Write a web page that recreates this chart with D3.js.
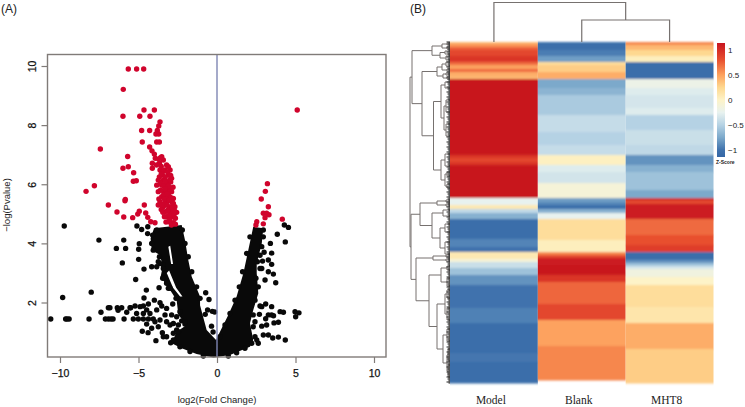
<!DOCTYPE html>
<html lang="en">
<head>
<meta charset="UTF-8">
<title>Volcano plot and heatmap</title>
<script src="https://d3js.org/d3.v7.min.js"></script>
<style>
  html, body { margin: 0; padding: 0; background: #fff; }
  svg { display: block; }
  text { font-family: "Liberation Sans", Arial, sans-serif; fill: #222; }
  .serif { font-family: "Liberation Serif", "Times New Roman", serif; }
</style>
</head>
<body>
<svg id="chart" width="745" height="407"></svg>
<script>
// volcano: [log2 fold change, -log p]
const redPoints = [
  [-5.65,9.9],[-5.12,9.9],[-4.67,9.9],[-5.97,9.21],[-4.65,8.51],[-3.99,8.51],[-5.99,8.3],[-4.92,8.3],[-4.27,8.3],
  [-3.63,8.11],[-3.71,7.97],[-4.8,7.82],[-4.29,7.82],[-3.8,7.82],[-3.89,7.7],[-3.71,7.7],[-4.76,7.43],[-3.84,7.43],
  [-3.67,7.43],[-7.43,7.19],[-4.29,7.26],[-4.14,7.13],[-3.99,7.02],[-5.69,6.94],[-3.93,6.88],[-3.52,6.93],[-4.12,6.71],
  [-3.67,6.71],[-5.99,6.54],[-5.65,6.59],[-4.12,6.54],[-5.31,6.39],[-5.33,6.1],[-5.14,6.12],[-7.81,5.95],[-8.34,5.76],
  [-5.84,5.49],[-6.92,5.3],[-6.37,5.06],[-5.94,4.89],[-5.37,4.87],[-5.05,4.99],[-4.95,5.09],[-4.63,5.3],[-5.86,5.44],
  [-4.54,5.03],[-4.41,4.88],[-4.22,4.73],[-3.95,4.7],
  [-3.42,6.82],[-3.21,6.65],[-3.63,6.48],[-3.31,6.48],[-2.99,6.48],[-3.46,6.31],[-3.1,6.31],[-3.74,6.14],[-3.42,6.14],
  [-2.89,6.2],[-3.1,6.05],[-3.84,5.97],[-3.52,5.97],[-3.21,5.92],[-3.74,5.75],[-3.42,5.78],[-2.89,5.75],[-3.52,5.58],
  [-3.21,5.58],[-2.78,5.52],[-2.95,6.08],[-3.67,6.25],[-3.25,5.75],[-3.1,6.59],[-3.63,5.41],[-3.21,5.41],[-2.89,5.41],
  [-3.42,5.24],[-2.99,5.24],[-2.68,5.24],[-3.31,5.07],[-2.89,5.07],[-2.57,5.05],[-3.21,4.9],[-2.89,4.9],[-3.1,4.73],
  [-2.78,4.7],[-3.74,5.3],[-3.05,5.6],[-3.35,5.35],[-3.1,5.15],[-3.05,4.95],[-2.75,4.95],[-3.55,5.15],[-3.3,6.0],[-3.05,5.85],
  [-3.55,6.6],[-3.4,6.45],[-3.15,6.42],[-3.55,6.35],[-3.3,6.25],[-2.95,6.3],[-3.6,6.05],[-3.28,6.12],[-3.0,6.15],[-3.4,5.95],
  [-3.1,5.95],[-2.8,5.9],[-3.6,5.8],[-3.3,5.85],[-3.0,5.75],[-3.4,5.65],[-3.15,5.68],[-2.95,5.55],[-3.7,5.5],[-3.35,5.5],
  [-3.05,5.45],[-2.78,5.35],[-3.5,5.3],[-3.2,5.3],[-2.85,5.2],[-3.45,5.05],[-3.15,5.1],[-2.7,5.1],[-3.35,4.9],[-3.0,4.8],
  [-2.65,4.85],[-3.25,4.72],[-2.9,4.62],[-2.65,4.65],[-3.85,6.65],[-3.72,6.85],[-3.6,6.9],
  [5.11,8.51],[3.21,6.02],[3.08,5.76],[2.82,5.5],[3.27,5.24],[2.95,5.02],[3.16,5.02],[3.31,4.97],[3.06,4.87],[4.16,4.82],
  [2.53,4.73],[2.95,4.66],[2.48,4.62]
];
const blackPoints = [
  [-9.73,4.59],[-7.52,4.11],[-5.94,4.11],[-6.41,3.83],[-5.82,3.83],[-4.95,3.99],[-4.99,3.8],[-6.03,3.34],[-4.99,3.46],
  [-4.65,3.13],[-5.18,2.78],[-4.5,2.42],[-3.69,2.5],[-8.01,2.35],[-9.83,2.17],[-4.65,2.15],[-10.59,1.44],[-9.64,1.44],
  [-9.55,1.44],[-9.42,1.44],[-8.15,1.44],[-7.39,1.67],[-6.92,1.82],[-6.82,1.82],[-7.11,1.44],[-6.92,1.44],[-6.75,1.44],
  [-6.62,1.44],[-6.35,1.82],[-6.3,1.74],[-6.07,1.82],[-5.92,1.44],[-5.75,1.67],[-5.54,1.82],
  [-5.1,4.59],[-4.8,4.47],[-4.41,4.56],[-4.42,4.33],
  [-4.69,1.88],[-4.37,1.95],[-3.99,2.08],[-3.63,1.99],[-3.52,1.88],[-4.48,1.75],[-4.9,1.86],[-5.22,1.88],[-5.5,1.82],
  [-5.12,1.63],[-4.69,1.63],[-4.27,1.63],[-3.84,1.75],[-3.21,1.8],[-2.82,1.95],[-3.31,1.58],[-2.89,1.58],[-5.33,1.44],
  [-5.01,1.44],[-4.69,1.44],[-4.37,1.44],[-4.06,1.44],[-3.63,1.41],[-3.21,1.35],[-2.99,1.24],[-4.48,1.27],[-4.16,1.13],
  [-3.74,1.18],[-3.95,1.35],[-4.76,1.03],[-4.39,0.98],[-3.48,0.98],[-3.42,0.84],[-3.89,0.71],[-2.95,0.64],[-3.21,0.84],
  [-2.78,0.96],[-2.57,1.07],[-2.78,1.29],[-2.46,1.24],[-2.57,1.52],[-2.25,1.38],[-2.04,1.27],
  [-3.84,3.21],[-4.16,3.21],[-3.42,3.27],[-3.63,3.32],[-3.74,3.38],[-3.31,2.82],[-3.21,2.65],[-3.1,2.48],
  [-0.72,2.33],[-0.51,2.1],[-0.3,1.7],[-0.6,1.75],[-0.15,1.68],[-0.75,1.6],[-0.35,1.2],[-0.25,1.0],
  [3.4,4.0],[3.48,3.67],[3.27,3.44],[2.85,3.15],[3.48,3.29],[3.27,3.04],[3.59,2.96],[3.06,2.76],[3.74,2.67],
  [2.85,1.86],[3.48,1.86],[3.27,1.58],[4.02,1.69],[4.23,1.67],[4.97,1.69],[5.22,1.65],[5.01,1.52],[3.63,1.31],[3.91,1.33],
  [3.16,1.24],[2.85,1.2],[2.42,1.35],[3.48,1.58],[2.95,0.9],[3.27,0.9],[3.55,0.8],[3.91,0.83],[4.35,0.73],[2.63,0.62],[2.53,0.73],
  [3.84,4.31],[4.35,4.05],[4.29,4.62],[4.55,4.54],[3.0,3.7],[2.9,3.4],[3.1,1.95],[2.7,1.6],[3.1,1.45],[3.6,1.55],
  // rim of the solid part
  [2.95,4.45],[2.95,4.22],[2.85,3.89],[2.74,3.6],[2.57,3.38],[2.74,3.15],[2.48,2.82],[2.63,2.53],[2.42,2.08],[2.74,1.88],
  [2.31,1.58],[2.31,1.18],[2.42,0.84],[2.21,0.62],[1.78,0.45],[1.25,0.3],[0.72,0.19],
  [2.1,4.22],[1.89,3.66],[1.63,3.04],[1.42,2.53],[1.15,2.08],[0.83,1.63],[0.51,1.24],[0.19,0.84],
  [-3.84,4.45],[-4.1,4.28],[-4.16,4.0],[-4.06,3.77],[-3.67,3.55],[-3.42,3.15],[-3.46,2.82],[-2.99,2.48],[-2.61,2.14],
  [-2.36,1.69],[-2.04,1.35],[-2.46,1.01],[-2.78,0.73],[-2.36,0.5],[-1.72,0.34],[-0.87,0.19],
  [-2.21,4.45],[-2.04,4.0],[-1.83,3.55],[-1.61,3.04],[-1.3,2.53],[-1.08,2.14]
];
// solid part of the cloud, where single points can no longer be told apart
const denseX = [-4.01,-4.23,-4.16,-3.63,-3.46,-3.59,-2.99,-2.57,-2.46,-1.93,-2.57,-2.89,-2.25,-1.3,-0.23,0.83,2.1,2.31,2.1,2.31,2.63,2.53,2.53,2.85,2.95,2.31,1.68,1.25,0.72,0.19,-0.06,-0.66,-1.08,-1.08,-1.61,-1.83,-2.04,-2.25];
const denseY = [4.51,4.17,3.77,3.61,3.21,2.87,2.42,2.08,1.58,1.24,1.01,0.62,0.45,0.26,0.14,0.22,0.5,0.73,1.3,1.75,2.31,2.99,3.32,4.0,4.51,4.56,2.99,2.2,1.58,1.01,0.73,1.07,1.91,2.2,2.87,3.44,4.11,4.62];
// thin white gaps inside the left arm
const gapOneX = [-3.1,-2.98,-2.8,-2.92];
const gapOneY = [3.89,3.92,3.3,3.3];
const gapTwoX = [-3.2,-3.05,-2.6,-2.2,-2.35,-2.8];
const gapTwoY = [3.0,3.08,2.5,2.2,2.2,2.5];
const xTicks = [-10, -5, 0, 5, 10];
const yTicks = [2, 4, 6, 8, 10];

// heatmap: each list is [rows in band, z-score], top to bottom
const samples = ["Model", "Blank", "MHT8"];
const modelRows = [[2,.4],[3,.55],[3,.75],[6,.85],[6,.95],[3,.7],[4,.5],[3,.7],[4,.45],[3,.4],[76,1.15],[3,.95],[4,.85],[3,.95],[33,1.15],[7,-.25],[4,.1],[4,-.45],[6,-.7],[20,-1.05],[8,-.92],[5,-1],[7,.1],[3,-.1],[6,-.4],[7,-.6],[10,-.85],[23,-1],[15,-.93],[30,-1.05],[9,-.98],[21,-1.05]];
const blankRows = [[8,-1.05],[6,-.95],[6,-.8],[3,.2],[7,.3],[7,.45],[9,-.75],[7,-.68],[20,-.55],[17,-.42],[13,-.5],[10,-.42],[10,.03],[7,-.3],[11,-.36],[15,-.1],[4,-.8],[3,-.9],[4,-1.05],[4,-.7],[6,-.25],[21,.2],[12,.05],[3,.6],[3,.85],[7,1.1],[10,1.15],[7,.95],[22,.72],[16,.85],[26,.5],[34,.6]];
const mht8Rows = [[3,.6],[5,.4],[6,.25],[6,.05],[17,-1.05],[9,-.2],[7,-.3],[13,-.35],[7,-.3],[15,-.5],[15,-.4],[10,-.45],[10,-.85],[7,-.7],[18,-.6],[8,-.75],[2,1.1],[4,.85],[15,1.1],[16,.7],[10,.8],[7,.9],[8,-1.05],[3,-.85],[3,-.6],[3,-.35],[8,-.15],[8,0],[22,.2],[16,.13],[26,.45],[34,.3]];
const zStops = [-1.14,-1,-.75,-.5,-.25,0,.25,.5,.8,1.14];
const zColors = ["#3566a5","#3f72ad","#7ca9cb","#b5d2e4","#e8f2ef","#fdf3c8","#fed890","#fda25e","#e8502f","#c8141f"];
const zTicks = [-1, -.5, 0, .5, 1];

// dendrograms: [merge height, child, child], a bare number is a leaf
const colTree = [39.5, "Model", [22, "Blank", "MHT8"]];
const rowTree = [40,
  [38,
    [18, [8,[3,1,3],[3,5,7]], [10,[5,9,12],[4,14,18]]],
    [28,
      [13, [8,[4,20,24],[3,27,29]], [7,[4,31,33],[3,35,37]]],
      [16.5,
        [9, [5,40,46], [6,[4,58,70],[4,82,94]]],
        [9, [5,112,124], [5,[3,130,134],[3,142,146]]]]]],
  [39,
    [30,
      [13, [4,158,160], [4,162,164]],
      [18, [7,168,174], [10,[5,182,190],[5,200,212]]]],
    [34,
      [17, [4,213,215], [4,217,219]],
      [21,
        [9, [3,224,228], [3,236,244]],
        [13,
          [5, [3,248,256], [3,266,278]],
          [7, [3,287,299], [3,[2,307,319],[2,323,335]]]]]]]
];

const svg = d3.select("#chart");
const defs = svg.append("defs");
defs.append("filter").attr("id", "soft").append("feGaussianBlur").attr("stdDeviation", "0 0.8");

// ---- panel A ----
const frame = { left: 47.5, right: 386, top: 54.5, bottom: 357 };
const x = d3.scaleLinear().domain([-10, 10]).range([60, 374]);
const y = d3.scaleLinear().domain([2, 10]).range([302.5, 66]);
const pointR = 2.7;

function ringPath(xs, ys) {
  return d3.line().x((d, i) => x(xs[i])).y((d, i) => y(ys[i])).curve(d3.curveLinearClosed)(xs);
}

const plot = svg.append("g");
plot.append("path")
  .attr("d", ringPath(denseX, denseY) + ringPath(gapOneX, gapOneY) + ringPath(gapTwoX, gapTwoY))
  .attr("fill-rule", "evenodd").attr("fill", "#090909");
plot.selectAll("circle.black").data(blackPoints).enter().append("circle")
  .attr("class", "black").attr("cx", d => x(d[0])).attr("cy", d => y(d[1])).attr("r", pointR).attr("fill", "#090909");
plot.selectAll("circle.red").data(redPoints).enter().append("circle")
  .attr("class", "red").attr("cx", d => x(d[0])).attr("cy", d => y(d[1])).attr("r", pointR).attr("fill", "#d0042c");

plot.append("line").attr("x1", x(0)).attr("x2", x(0)).attr("y1", frame.top).attr("y2", frame.bottom)
  .attr("stroke", "#7f86b4").attr("stroke-width", 1.4);
plot.append("rect").attr("x", frame.left).attr("y", frame.top)
  .attr("width", frame.right - frame.left).attr("height", frame.bottom - frame.top)
  .attr("fill", "none").attr("stroke", "#807b78").attr("stroke-width", 1.4);

const xAxis = svg.append("g").attr("transform", `translate(0,${frame.bottom})`)
  .call(d3.axisBottom(x).tickValues(xTicks).tickSize(6).tickPadding(7).tickFormat(d => d < 0 ? "\u2212" + (-d) : d));
const yAxis = svg.append("g").attr("transform", `translate(${frame.left},0)`)
  .call(d3.axisLeft(y).tickValues(yTicks).tickSize(6).tickFormat(d => d));
xAxis.select(".domain").remove();
yAxis.select(".domain").remove();
svg.selectAll(".tick line").attr("stroke", "#807b78").attr("stroke-width", 1.2);
xAxis.selectAll("text").attr("font-size", 10.5).attr("font-family", "Liberation Sans").style("fill", "#111")
  .attr("stroke", "#111").attr("stroke-width", .25);
yAxis.selectAll("text").attr("font-size", 10.5).attr("font-family", "Liberation Sans").style("fill", "#111")
  .attr("stroke", "#111").attr("stroke-width", .25)
  .attr("text-anchor", "middle").attr("x", 0).attr("dy", 0)
  .attr("transform", "translate(-12,0) rotate(-90)");

svg.append("text").attr("x", 217).attr("y", 403).attr("text-anchor", "middle").attr("font-size", 9.5).text("log2(Fold Change)");
svg.append("text").attr("transform", "translate(10,205) rotate(-90)").attr("text-anchor", "middle").attr("font-size", 9.5).text("\u2212log(Pvalue)");
svg.append("text").attr("x", 1).attr("y", 13).attr("font-size", 12).text("(A)");
svg.append("text").attr("x", 410).attr("y", 13).attr("font-size", 12).text("(B)");

// ---- panel B ----
const col = d3.scaleBand().domain(samples).range([450, 713.5]);
const row = d3.scaleLinear().domain([0, 341]).range([42, 383]);
const zColor = d3.scaleLinear().domain(zStops).range(zColors).clamp(true);

function drawColumn(name, rows) {
  let start = 0;
  const bands = rows.map(([n, z]) => { const b = { start, n, z }; start += n; return b; });
  svg.append("g").attr("filter", "url(#soft)").selectAll("rect").data(bands).enter().append("rect")
    .attr("x", col(name)).attr("width", col.bandwidth())
    .attr("y", d => row(d.start)).attr("height", d => row(d.start + d.n) - row(d.start) + .5)
    .attr("fill", d => zColor(d.z));
}
drawColumn("Model", modelRows);
drawColumn("Blank", blankRows);
drawColumn("MHT8", mht8Rows);

samples.forEach(s => {
  svg.append("text").attr("class", "serif").attr("x", col(s) + col.bandwidth() / 2 - 3).attr("y", 404)
    .attr("text-anchor", "middle").attr("font-size", 11.5).text(s);
});

// walks a tree, returns the position of the node and collects its bracket
function layout(node, pos, out) {
  if (!Array.isArray(node)) return { p: pos(node), h: 0 };
  const a = layout(node[1], pos, out);
  const b = layout(node[2], pos, out);
  out.push({ h: node[0], a, b });
  return { p: (a.p + b.p) / 2, h: node[0] };
}

const rowH = d3.scaleLinear().domain([0, 40]).range([450, 410]);
const rowLinks = [];
layout(rowTree, d => row(d), rowLinks);
svg.append("path")
  .attr("d", rowLinks.map(l => `M${rowH(l.a.h)},${l.a.p}H${rowH(l.h)}V${l.b.p}H${rowH(l.b.h)}`).join(""))
  .attr("fill", "none").attr("stroke", "#76716f").attr("stroke-width", 1);

// leaves are too close together to separate, they read as a dark comb
svg.append("g").selectAll("line").data(d3.range(0, 342, 1)).enter().append("line")
  .attr("x1", d => rowH(d % 5 === 0 ? 3.5 : (d % 5 === 2 ? 2.5 : 1.5))).attr("x2", rowH(0))
  .attr("y1", d => row(d)).attr("y2", d => row(d))
  .attr("stroke", "#1c1c1c").attr("stroke-width", 1);

const colH = d3.scaleLinear().domain([0, 39.5]).range([42, 2.5]);
const colLinks = [];
layout(colTree, d => col(d) + col.bandwidth() / 2, colLinks);
svg.append("path")
  .attr("d", colLinks.map(l => `M${l.a.p},${colH(l.a.h)}V${colH(l.h)}H${l.b.p}V${colH(l.b.h)}`).join(""))
  .attr("fill", "none").attr("stroke", "#76716f").attr("stroke-width", 1.2);

// colour key
const keyY = d3.scaleLinear().domain([-1, 1]).range([150, 50]);
const grad = defs.append("linearGradient").attr("id", "keyGrad")
  .attr("x1", 0).attr("x2", 0).attr("y1", 1).attr("y2", 0);
zStops.forEach((z, i) => grad.append("stop")
  .attr("offset", (z - zStops[0]) / (zStops[zStops.length - 1] - zStops[0])).attr("stop-color", zColors[i]));
svg.append("rect").attr("x", 717).attr("y", keyY(1.14)).attr("width", 8)
  .attr("height", keyY(-1.14) - keyY(1.14)).attr("fill", "url(#keyGrad)");
const zAxis = svg.append("g").attr("transform", "translate(725,0)")
  .call(d3.axisRight(keyY).tickValues(zTicks).tickSize(0).tickPadding(3).tickFormat(d => d < 0 ? "\u2212" + (-d) : d));
zAxis.select(".domain").remove();
zAxis.selectAll("text").attr("font-size", 8).attr("font-family", "Liberation Sans").style("fill", "#222");
svg.append("text").attr("x", 716).attr("y", 164).attr("font-size", 5).attr("font-weight", "bold").text("Z-Score");
</script>
</body>
</html>
